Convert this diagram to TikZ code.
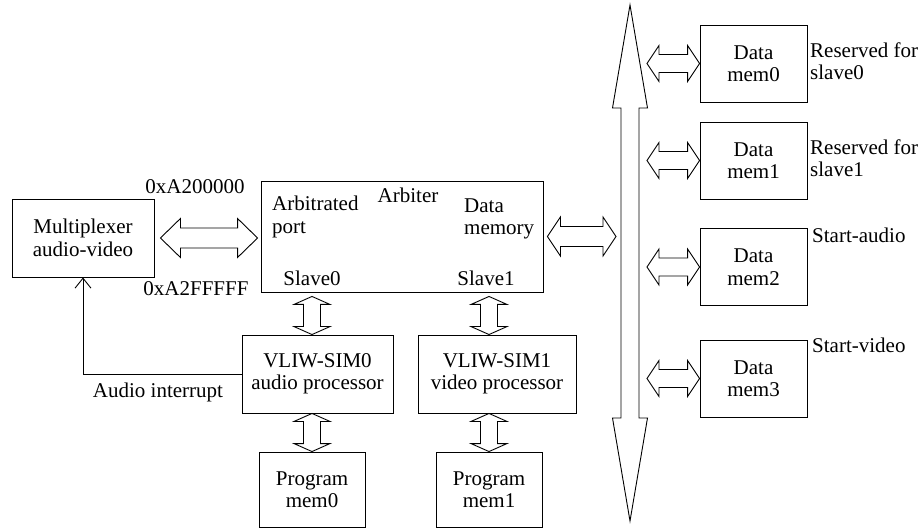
\documentclass[tikz,border=0pt]{standalone}
\usepackage{fontspec}
\setmainfont{Liberation Serif}
\usetikzlibrary{calc,arrows.meta}

\tikzset{
  box/.style={draw, line width=0.9pt, align=center, inner sep=0pt},
  lbl/.style={inner sep=0pt, align=left},
  dblarrow/.style={line width=0.9pt, line join=miter},
  irq/.style={line width=0.9pt, -{Straight Barb[length=10pt,width=16pt]}}
}

% hollow double arrows: tip, tip, head length, head half width, shaft half width
\newcommand{\hdbl}[5]{%
  \draw[dblarrow] let \p1=(#1), \p2=(#2) in
    (\p1) -- (\x1+#3pt,\y1+#4pt) -- (\x1+#3pt,\y1+#5pt) -- (\x2-#3pt,\y1+#5pt)
    -- (\x2-#3pt,\y1+#4pt) -- (\x2,\y1) -- (\x2-#3pt,\y1-#4pt) -- (\x2-#3pt,\y1-#5pt)
    -- (\x1+#3pt,\y1-#5pt) -- (\x1+#3pt,\y1-#4pt) -- cycle;}
\newcommand{\vdbl}[5]{%
  \draw[dblarrow] let \p1=(#1), \p2=(#2) in
    (\p1) -- (\x1+#4pt,\y1-#3pt) -- (\x1+#5pt,\y1-#3pt) -- (\x1+#5pt,\y2+#3pt)
    -- (\x1+#4pt,\y2+#3pt) -- (\x1,\y2) -- (\x1-#4pt,\y2+#3pt) -- (\x1-#5pt,\y2+#3pt)
    -- (\x1-#5pt,\y1-#3pt) -- (\x1-#4pt,\y1-#3pt) -- cycle;}

\begin{document}
\begin{tikzpicture}[x=1pt, y=-1pt, font=\fontsize{21}{22.5}\selectfont]
    \useasboundingbox (0,0) rectangle (921,529);

    % Multiplexer and arbiter
    \node[box, minimum width=142, minimum height=78] (mux) at (83,238) {Multiplexer\\audio-video};
    \node[box, minimum width=282, minimum height=111] (arb) at (402,236.5) {};
    \node[lbl] (arbt) at (408,195) {Arbiter};
    \node[lbl, anchor=west] (aport) at (272,217) {Arbitrated\\port};
    \node[lbl, anchor=west] (amem) at (464,219) {Data\\memory};
    \node[lbl] (s0) at (312,278) {Slave0};
    \node[lbl] (s1) at (486,278) {Slave1};
    \node[lbl] (lo) at (195,187) {0xA200000};
    \node[lbl] (hi) at (196,289) {0xA2FFFFF};

    % Processors and program memories
    \node[box, minimum width=151, minimum height=78] (vliw0) at (317.5,374) {VLIW-SIM0\\audio processor};
    \node[box, minimum width=158, minimum height=78] (vliw1) at (497,374) {VLIW-SIM1\\video processor};
    \node[box, minimum width=106, minimum height=75] (prog0) at (312,489.5) {Program\\mem0};
    \node[box, minimum width=106, minimum height=75] (prog1) at (489,489.5) {Program\\mem1};
    \node[lbl] (irqlbl) at (158,392) {Audio interrupt};

    % Bus
    \coordinate (bustop) at (630,5);
    \coordinate (busbot) at (630,521);
    \coordinate (busL) at (616,0);
    \coordinate (busR) at (647,0);
    \vdbl{bustop}{busbot}{103}{17.5}{9}

    % Data memories on the bus
    \foreach \i/\y in {0/63.5,1/160.5,2/267,3/378.5}{
        \node[box, minimum width=107, minimum height=77] (mem\i) at (753.5,\y) {Data\\mem\i};
        \hdbl{mem\i.west -| busR}{mem\i.west}{12}{18}{9}
    }
    \node[lbl, anchor=west] (res0) at (810,61) {Reserved for\\slave0};
    \node[lbl, anchor=west] (res1) at (810,158) {Reserved for\\slave1};
    \node[lbl, anchor=west] (sta) at (812,235) {Start-audio};
    \node[lbl, anchor=west] (stv) at (812,345) {Start-video};

    % Links
    \hdbl{$(mux.east)+(6,0)$}{$(arb.west)+(-3,0)$}{20}{19.5}{10}
    \hdbl{$(arb.east)+(4,0)$}{arb.east -| busL}{13}{19.5}{10}
    \vdbl{$(arb.south -| s0)+(0,4)$}{vliw0.north -| s0}{8}{18}{8.5}
    \vdbl{$(arb.south -| prog1)+(0,4)$}{vliw1.north -| prog1}{8}{18}{8.5}
    \vdbl{vliw0.south -| prog0}{prog0.north}{8}{18}{8.5}
    \vdbl{vliw1.south -| prog1}{prog1.north}{8}{18}{8.5}
    \draw[irq] (vliw0.west) -| (mux.south);
\end{tikzpicture}
\end{document}
